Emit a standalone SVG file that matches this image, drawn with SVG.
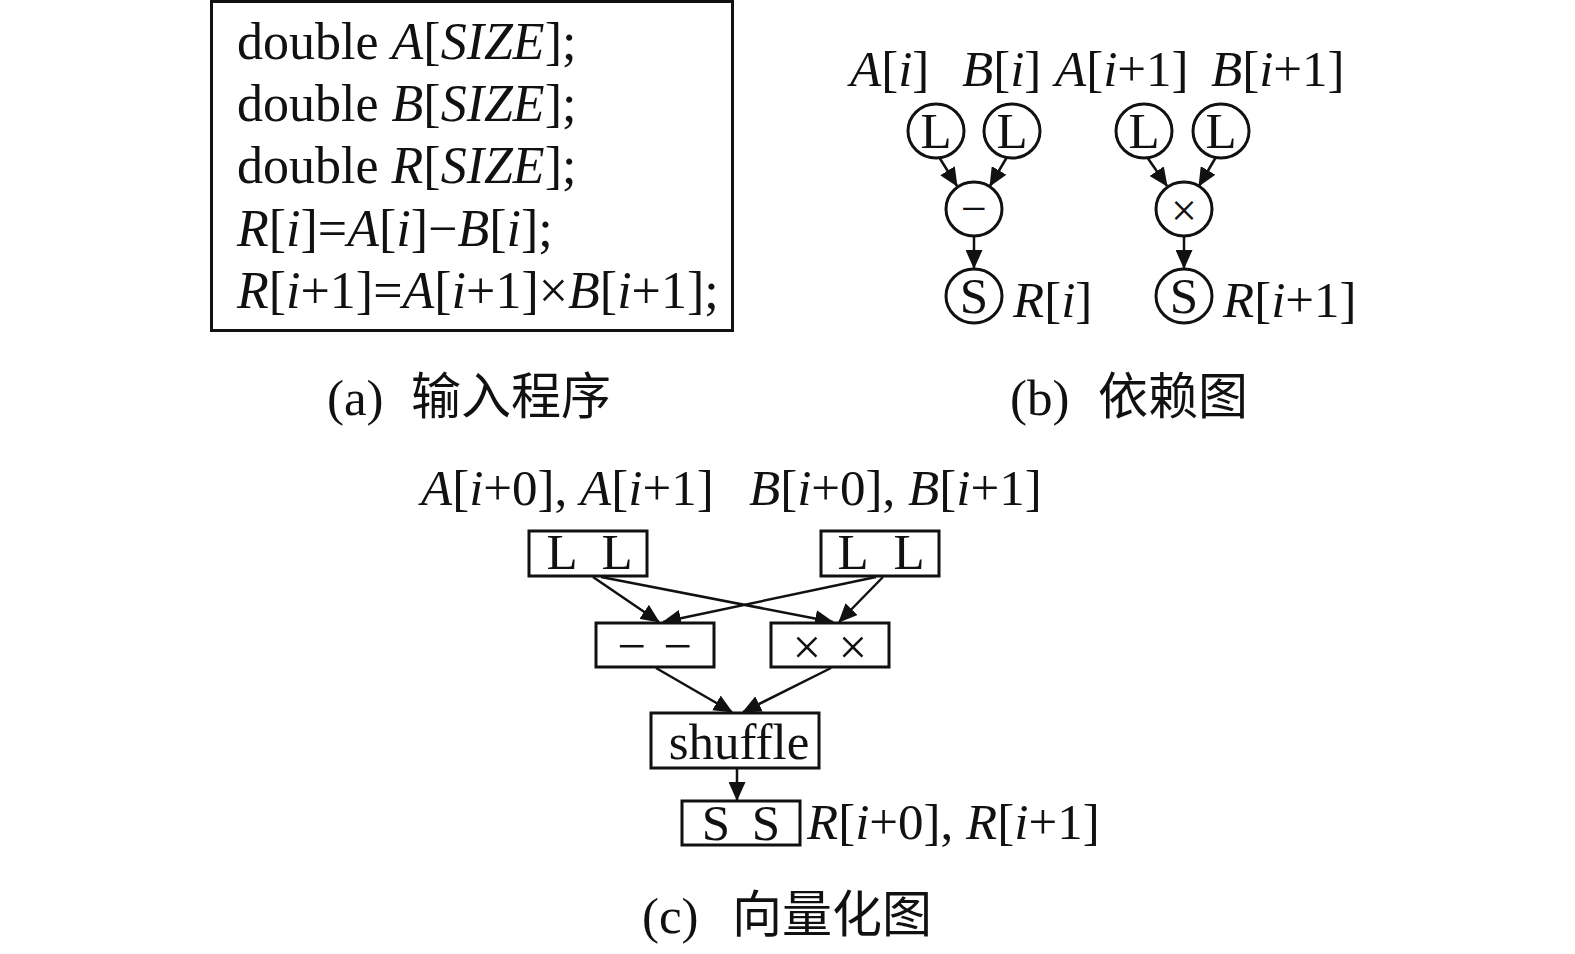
<svg xmlns="http://www.w3.org/2000/svg" width="1575" height="954" viewBox="0 0 1575 954">
<style>
text{font-family:"Liberation Serif","Times New Roman",serif;font-size:51px;fill:#111}
.code{font-size:52px}
.i{font-style:italic}
.m{text-anchor:middle}
.cjk{font-family:"Noto Sans CJK SC","Noto Sans CJK JP",sans-serif;font-size:50px}
.box{fill:#fff;stroke:#111;stroke-width:3}
.node{fill:#fff;stroke:#111;stroke-width:3}
.edge{fill:none;stroke:#111;stroke-width:2.5;marker-end:url(#ah)}
</style>
<defs>
<marker id="ah" markerUnits="userSpaceOnUse" markerWidth="19" markerHeight="17" viewBox="0 0 19 17" refX="18" refY="8.5" orient="auto">
<path d="M0,0 L19,8.5 L0,17 Z" fill="#111"/>
</marker>
</defs>
<rect width="1575" height="954" fill="#fff"/>

<g id="program">
<rect class="box" x="211.5" y="1.5" width="521" height="329"/>
<text class="code" x="237" y="59">double <tspan class="i">A</tspan>[<tspan class="i">SIZE</tspan>];</text>
<text class="code" x="237" y="121">double <tspan class="i">B</tspan>[<tspan class="i">SIZE</tspan>];</text>
<text class="code" x="237" y="183">double <tspan class="i">R</tspan>[<tspan class="i">SIZE</tspan>];</text>
<text class="code" x="237" y="246"><tspan class="i">R</tspan>[<tspan class="i">i</tspan>]=<tspan class="i">A</tspan>[<tspan class="i">i</tspan>]−<tspan class="i">B</tspan>[<tspan class="i">i</tspan>];</text>
<text class="code" x="237" y="308"><tspan class="i">R</tspan>[<tspan class="i">i</tspan>+1]=<tspan class="i">A</tspan>[<tspan class="i">i</tspan>+1]×<tspan class="i">B</tspan>[<tspan class="i">i</tspan>+1];</text>
</g>

<g id="caption-a">
<text x="327" y="415">(a)</text>
<text class="cjk" x="411" y="414">输入程序</text>
</g>

<g id="dep-labels">
<text x="850" y="86"><tspan class="i">A</tspan>[<tspan class="i">i</tspan>]</text>
<text x="962" y="86"><tspan class="i">B</tspan>[<tspan class="i">i</tspan>]</text>
<text x="1055" y="86"><tspan class="i">A</tspan>[<tspan class="i">i</tspan>+1]</text>
<text x="1211" y="86"><tspan class="i">B</tspan>[<tspan class="i">i</tspan>+1]</text>
</g>

<g id="b-connectors">
<line class="edge" x1="939" y1="157" x2="957" y2="186"/>
<line class="edge" x1="1007" y1="157" x2="990" y2="186"/>
<line class="edge" x1="974" y1="236" x2="974" y2="268"/>
<line class="edge" x1="1147" y1="157" x2="1167" y2="186"/>
<line class="edge" x1="1216" y1="157" x2="1199" y2="186"/>
<line class="edge" x1="1184" y1="236" x2="1184" y2="268"/>
</g>

<g id="nL1"><ellipse class="node" cx="936" cy="131" rx="28" ry="27"/><text class="m" x="936" y="148">L</text></g>
<g id="nL2"><ellipse class="node" cx="1012" cy="131" rx="28" ry="27"/><text class="m" x="1012" y="148">L</text></g>
<g id="nL3"><ellipse class="node" cx="1144" cy="131" rx="28" ry="27"/><text class="m" x="1144" y="148">L</text></g>
<g id="nL4"><ellipse class="node" cx="1221" cy="131" rx="28" ry="27"/><text class="m" x="1221" y="148">L</text></g>
<g id="nSub"><ellipse class="node" cx="974" cy="209" rx="28" ry="27"/><text class="m" x="974" y="224" style="font-size:46px">−</text></g>
<g id="nMul"><ellipse class="node" cx="1184" cy="209" rx="28" ry="27"/><text class="m" x="1184" y="226" style="font-size:46px">×</text></g>
<g id="nS1"><ellipse class="node" cx="974" cy="296" rx="28" ry="27"/><text class="m" x="974" y="313">S</text></g>
<g id="nS2"><ellipse class="node" cx="1184" cy="296" rx="28" ry="27"/><text class="m" x="1184" y="313">S</text></g>

<g id="dep-out-labels">
<text x="1013" y="317"><tspan class="i">R</tspan>[<tspan class="i">i</tspan>]</text>
<text x="1223" y="317"><tspan class="i">R</tspan>[<tspan class="i">i</tspan>+1]</text>
</g>

<g id="caption-b">
<text x="1010" y="415">(b)</text>
<text class="cjk" x="1098" y="414">依赖图</text>
</g>

<g id="vec-labels">
<text x="421" y="505"><tspan class="i">A</tspan>[<tspan class="i">i</tspan>+0], <tspan class="i">A</tspan>[<tspan class="i">i</tspan>+1]</text>
<text x="749" y="505"><tspan class="i">B</tspan>[<tspan class="i">i</tspan>+0], <tspan class="i">B</tspan>[<tspan class="i">i</tspan>+1]</text>
<text x="807" y="839"><tspan class="i">R</tspan>[<tspan class="i">i</tspan>+0], <tspan class="i">R</tspan>[<tspan class="i">i</tspan>+1]</text>
</g>

<g id="c-connectors">
<line class="edge" x1="593" y1="577" x2="659" y2="622"/>
<line class="edge" x1="601" y1="577" x2="833" y2="622"/>
<line class="edge" x1="876" y1="577" x2="663" y2="622"/>
<line class="edge" x1="883" y1="577" x2="839" y2="622"/>
<line class="edge" x1="656" y1="668" x2="732" y2="712"/>
<line class="edge" x1="831" y1="668" x2="743" y2="712"/>
<line class="edge" x1="737" y1="769" x2="737" y2="800"/>
</g>

<g id="vLL1"><rect class="box" x="529" y="531" width="118" height="45"/><text class="m" x="562" y="569">L</text><text class="m" x="617" y="569">L</text></g>
<g id="vLL2"><rect class="box" x="821" y="531" width="118" height="45"/><text class="m" x="853" y="569">L</text><text class="m" x="909" y="569">L</text></g>
<g id="vSub"><rect class="box" x="596" y="623" width="118" height="44"/><text class="m" x="632" y="663">−</text><text class="m" x="678" y="663">−</text></g>
<g id="vMul"><rect class="box" x="771" y="623" width="118" height="44"/><text class="m" x="807" y="664">×</text><text class="m" x="853" y="664">×</text></g>
<g id="vShuffle"><rect class="box" x="651" y="713" width="168" height="55"/><text class="m" x="739" y="759">shuffle</text></g>
<g id="vSS"><rect class="box" x="682" y="801" width="118" height="44"/><text class="m" x="716" y="840">S</text><text class="m" x="766" y="840">S</text></g>

<g id="caption-c">
<text x="642" y="933">(c)</text>
<text class="cjk" x="732" y="932">向量化图</text>
</g>
</svg>
